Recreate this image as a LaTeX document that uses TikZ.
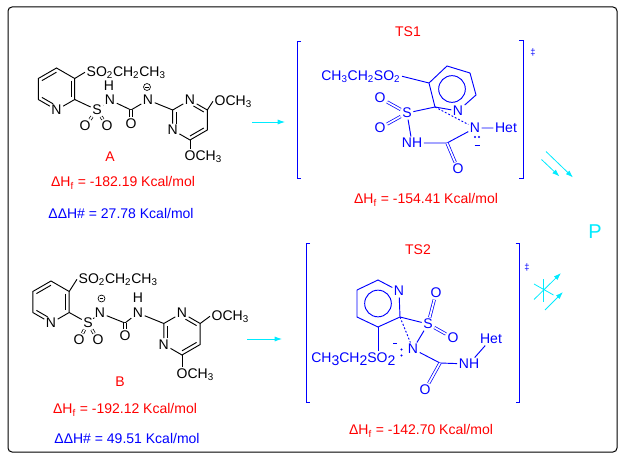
\documentclass[tikz,border=0pt]{standalone}
\usepackage{fontspec}
\setmainfont{Liberation Sans}
\usetikzlibrary{calc}
\usetikzlibrary{arrows.meta}
\newcommand{\molfont}{\fontsize{10.5}{12}\selectfont}
\newcommand{\daggerfont}{\fontsize{7}{8}\selectfont}
\newcommand{\prodfont}{\fontsize{15}{18}\selectfont}
\newcommand{\lowdigit}[1]{\raisebox{-2.5pt}{#1}}
\definecolor{schemered}{RGB}{255,0,0}
\definecolor{schemeblue}{RGB}{0,0,255}
\definecolor{schemecyan}{RGB}{0,235,255}
\tikzstyle{scheme}=[x=0.75pt, y=-0.75pt, line width=0.7pt,
                    % atom labels and captions
                    every node/.style={inner sep=1pt, font=\molfont}]
\tikzstyle{atom}=[inner sep=0.9pt]
\tikzstyle{dbond}=[double, double distance=1.3pt, line width=0.55pt]
\tikzstyle{partial}=[dash pattern=on 1.4pt off 1.4pt]
\tikzstyle{charge}=[circle, draw, line width=0.5pt, inner sep=0, minimum size=5.2pt,
                    path picture={\draw[line width=0.5pt, shorten <=1.2pt, shorten >=1.2pt] (path picture bounding box.west) -- (path picture bounding box.east);}]
\tikzstyle{react}=[schemecyan, line width=0.6pt, -{Latex[length=5.5pt, width=3.8pt]}]

\begin{document}
\begin{tikzpicture}[scheme]
        \useasboundingbox (0, 0) rectangle (624, 460);
        \draw[line width=0.75pt, rounded corners=3pt] (8, 7) rectangle (617, 452);
        % molecule A
        \coordinate (Ac) at (56.5, 89);
        \coordinate (A1) at (38.3, 78.5);
        \coordinate (A2) at (56.5, 68);
        \coordinate (A3) at (74.7, 78.5);
        \coordinate (A4) at (74.7, 99.5);
        \coordinate (A5) at (56.5, 110);
        \coordinate (A6) at (38.3, 99.5);
        \node[atom] (AN1) at (A5) {N};
        \draw (A6) -- (A1) -- (A2) -- (A3) -- (A4) -- (AN1) -- (A6);
        \draw ($(A1)!0.2!(Ac)$) -- ($(A2)!0.2!(Ac)$);
        \draw ($(A3)!0.2!(Ac)$) -- ($(A4)!0.2!(Ac)$);
        \draw[shorten <=3pt] ($(A5)!0.2!(Ac)$) -- ($(A6)!0.2!(Ac)$);
        \node[atom, anchor=base west] (Asub) at (85, 76) {SO\textsubscript{2}CH\textsubscript{2}CH\textsubscript{3}};
        \draw (A3) -- (Asub.west);
        \node[atom] (AS) at (97, 110) {S};
        \node[atom] (AO1) at (85, 126) {O};
        \node[atom] (AO2) at (107, 126) {O};
        \draw (A4) -- (AS);
        \draw[dbond] (AS) -- (AO1);
        \draw[dbond] (AS) -- (AO2);
        \node[atom] (AN2) at (110, 100) {N};
        \node[atom] (AH) at (109, 86) {H};
        \draw (AS) -- (AN2);
        \coordinate (AC) at (131, 110);
        \node[atom] (AO3) at (131, 124) {O};
        \node[atom] (AN3) at (148, 100) {N};
        \node[charge] (Aq) at (147, 87) {};
        \draw (AN2) -- (AC) -- (AN3);
        \draw[dbond] (AC) -- (AO3);
        \coordinate (APc) at (190, 120);
        \coordinate (AP1) at (172.7, 130);
        \coordinate (AP2) at (172.7, 110);
        \coordinate (AP3) at (190, 100);
        \coordinate (AP4) at (207.3, 110);
        \coordinate (AP5) at (207.3, 130);
        \coordinate (AP6) at (190, 140);
        \node[atom] (AN4) at (AP1) {N};
        \node[atom] (AN5) at (AP3) {N};
        \draw (AN3) -- (AP2);
        \draw (AN4) -- (AP2) -- (AN5) -- (AP4) -- (AP5) -- (AP6) -- (AN4);
        \draw[shorten <=3pt] ($(AP1)!0.2!(APc)$) -- ($(AP2)!0.2!(APc)$);
        \draw[shorten <=3pt] ($(AP3)!0.2!(APc)$) -- ($(AP4)!0.2!(APc)$);
        \draw ($(AP5)!0.2!(APc)$) -- ($(AP6)!0.2!(APc)$);
        \node[atom, anchor=base west] (AOme1) at (213, 105) {OCH\textsubscript{3}};
        \node[atom, anchor=base west] (AOme2) at (183, 160) {OCH\textsubscript{3}};
        \draw (AP4) -- (AOme1.west);
        \draw (AP6) -- (AP6 |- AOme2.north);
        \node[schemered] (Aname) at (110, 157) {A};
        \node[schemered] (AdHf) at (123, 183) {ΔH\textsubscript{f} = -182.19 Kcal/mol};
        \node[schemeblue] (AddH) at (121, 213) {ΔΔH\# = 27.78 Kcal/mol};
        % molecule B
        \coordinate (Bc) at (51, 302);
        \coordinate (B1) at (32.8, 291.5);
        \coordinate (B2) at (51, 281);
        \coordinate (B3) at (69.2, 291.5);
        \coordinate (B4) at (69.2, 312.5);
        \coordinate (B5) at (51, 323);
        \coordinate (B6) at (32.8, 312.5);
        \node[atom] (BN1) at (B5) {N};
        \draw (B6) -- (B1) -- (B2) -- (B3) -- (B4) -- (BN1) -- (B6);
        \draw ($(B1)!0.2!(Bc)$) -- ($(B2)!0.2!(Bc)$);
        \draw ($(B3)!0.2!(Bc)$) -- ($(B4)!0.2!(Bc)$);
        \draw[shorten <=3pt] ($(B5)!0.2!(Bc)$) -- ($(B6)!0.2!(Bc)$);
        \node[atom, anchor=base west] (Bsub) at (77, 283) {SO\textsubscript{2}CH\textsubscript{2}CH\textsubscript{3}};
        \draw (B3) -- (Bsub.west);
        \node[atom] (BS) at (88, 323) {S};
        \node[atom] (BO1) at (79, 340) {O};
        \node[atom] (BO2) at (98, 340) {O};
        \draw (B4) -- (BS);
        \draw[dbond] (BS) -- (BO1);
        \draw[dbond] (BS) -- (BO2);
        \node[atom] (BN2) at (100, 313) {N};
        \node[charge] (Bq) at (101.5, 298.5) {};
        \draw (BS) -- (BN2);
        \coordinate (BC) at (125, 323);
        \node[atom] (BO3) at (125, 336) {O};
        \node[atom] (BN3) at (138, 313) {N};
        \node[atom] (BH) at (138, 298) {H};
        \draw (BN2) -- (BC) -- (BN3);
        \draw[dbond] (BC) -- (BO3);
        \coordinate (BPc) at (182, 334);
        \coordinate (BP1) at (163.8, 344.5);
        \coordinate (BP2) at (163.8, 323.5);
        \coordinate (BP3) at (182, 313);
        \coordinate (BP4) at (200.2, 323.5);
        \coordinate (BP5) at (200.2, 344.5);
        \coordinate (BP6) at (182, 355);
        \node[atom] (BN4) at (BP1) {N};
        \node[atom] (BN5) at (BP3) {N};
        \draw (BN3) -- (BP2);
        \draw (BN4) -- (BP2) -- (BN5) -- (BP4) -- (BP5) -- (BP6) -- (BN4);
        \draw[shorten <=3pt] ($(BP1)!0.2!(BPc)$) -- ($(BP2)!0.2!(BPc)$);
        \draw[shorten <=3pt] ($(BP3)!0.2!(BPc)$) -- ($(BP4)!0.2!(BPc)$);
        \draw ($(BP5)!0.2!(BPc)$) -- ($(BP6)!0.2!(BPc)$);
        \node[atom, anchor=base west] (BOme1) at (210, 320) {OCH\textsubscript{3}};
        \node[atom, anchor=base west] (BOme2) at (175, 378) {OCH\textsubscript{3}};
        \draw (BP4) -- (BOme1.west);
        \draw (BP6) -- (BP6 |- BOme2.north);
        \node[schemered] (Bname) at (120, 382) {B};
        \node[schemered] (BdHf) at (125, 410) {ΔH\textsubscript{f} = -192.12 Kcal/mol};
        \node[schemeblue] (BddH) at (127, 438) {ΔΔH\# = 49.51 Kcal/mol};
        % TS1
        \node[schemered] (Taname) at (408, 32) {TS1};
        \node[schemered] (TadHf) at (426, 200) {ΔH\textsubscript{f} = -154.41 Kcal/mol};
        \begin{scope}[schemeblue]
        \draw (301, 41) -- (297, 41) -- (297, 178) -- (301, 178);
        \draw (519, 40) -- (523, 40) -- (523, 178) -- (519, 178);
        \node[font=\daggerfont] (Tadag) at (533, 52) {‡};
        \coordinate (Tac) at (452, 89);
        \coordinate (Ta1) at (429, 83);
        \coordinate (Ta2) at (447, 66);
        \coordinate (Ta3) at (470, 73);
        \coordinate (Ta4) at (476, 95);
        \coordinate (Ta5) at (458, 111);
        \coordinate (Ta6) at (435, 107);
        \node[atom] (TaN1) at (Ta5) {N};
        \draw (Ta6) -- (Ta1) -- (Ta2) -- (Ta3) -- (Ta4) -- (TaN1) -- (Ta6);
        \draw (Tac) circle (10pt);
        \node[atom, anchor=base east] (Tasub) at (402, 80) {CH\textsubscript{3}CH\textsubscript{2}SO\textsubscript{2}};
        \draw (Tasub.east) -- (Ta1);
        \node[atom] (TaS) at (407, 113) {S};
        \node[atom] (TaO1) at (380, 98) {O};
        \node[atom] (TaO2) at (380, 128) {O};
        \draw (TaS) -- (Ta6);
        \draw[dbond] (TaS) -- (TaO1);
        \draw[dbond] (TaS) -- (TaO2);
        \node[atom] (TaNH) at (412, 143) {NH};
        \draw (TaS) -- (TaNH);
        \coordinate (TaC) at (447, 143);
        \node[atom] (TaO3) at (458, 169) {O};
        \node[atom] (TaN2) at (475, 128) {N};
        \node[atom] (TaHet) at (506, 128) {Het};
        \draw (TaNH) -- (TaC) -- (TaN2) -- (TaHet);
        \draw[dbond] (TaC) -- (TaO3);
        \draw[partial] (Ta6) -- (TaN2);
        \fill (475, 137) circle (0.8pt) (479, 137) circle (0.8pt);
        \draw (474.5, 145) -- (479.5, 145);
        \end{scope}
        % TS2
        \node[schemered] (Tbname) at (418, 250) {TS2};
        \node[schemered] (TbdHf) at (421, 431) {ΔH\textsubscript{f} = -142.70 Kcal/mol};
        \begin{scope}[schemeblue]
        \draw (310, 243) -- (306, 243) -- (306, 402) -- (310, 402);
        \draw (515.5, 243) -- (519.5, 243) -- (519.5, 402) -- (515.5, 402);
        \node[font=\daggerfont] (Tbdag) at (527, 267) {‡};
        \coordinate (Tbc) at (378, 303.5);
        \coordinate (Tb1) at (378, 280);
        \coordinate (Tb2) at (399, 291);
        \coordinate (Tb3) at (400, 317);
        \coordinate (Tb4) at (378, 327);
        \coordinate (Tb5) at (357, 317);
        \coordinate (Tb6) at (357, 290);
        \node[atom] (TbN1) at (Tb2) {N};
        \draw (Tb6) -- (Tb1) -- (TbN1) -- (Tb3) -- (Tb4) -- (Tb5) -- (Tb6);
        \draw (Tbc) circle (10pt);
        \node[atom, anchor=base east] (Tbsub) at (397, 362) {CH\lowdigit{3}CH\lowdigit{2}SO\lowdigit{2}};
        \draw (Tb4) -- (Tb4 |- Tbsub.north);
        \node[atom] (TbS) at (428, 324) {S};
        \node[atom] (TbO1) at (436, 293) {O};
        \node[atom] (TbO2) at (453, 338) {O};
        \draw (Tb3) -- (TbS);
        \draw[dbond] (TbS) -- (TbO1);
        \draw[dbond] (TbS) -- (TbO2);
        \node[atom] (TbN2) at (413, 349) {N};
        \draw (TbS) -- (TbN2);
        \draw[partial] (Tb3) -- (TbN2);
        \coordinate (TbC) at (440, 363);
        \node[atom] (TbNH) at (469, 364) {NH};
        \node[atom] (TbO3) at (425, 390) {O};
        \node[atom] (TbHet) at (491, 339) {Het};
        \draw (TbN2) -- (TbC) -- (TbNH) -- (TbHet);
        \draw[dbond] (TbC) -- (TbO3);
        \fill (401.5, 349.5) circle (0.8pt) (401.5, 355.5) circle (0.8pt);
        \draw (393, 343) -- (397, 343);
        \end{scope}
        % reaction arrows
        \coordinate (Aarr) at (252, 122);
        \coordinate (Taarr) at (285, 122);
        \coordinate (Barr) at (247, 339);
        \coordinate (Tbarr) at (282, 339);
        \draw[react] (Aarr) -- (Taarr);
        \draw[react] (Barr) -- (Tbarr);
        \node[schemecyan, font=\prodfont] (P) at (595, 232) {P};
        \coordinate (Pa1) at (541.5, 159.5);
        \coordinate (Pa2) at (559.5, 176.5);
        \coordinate (Pb1) at (546, 151.5);
        \coordinate (Pb2) at (573, 177.5);
        \draw[react] (Pa1) -- (Pa2);
        \draw[react] (Pb1) -- (Pb2);
        \coordinate (Pc1) at (534, 299.5);
        \coordinate (Pc2) at (561, 273);
        \coordinate (Pd1) at (545, 310);
        \coordinate (Pd2) at (563, 292);
        \draw[react] (Pc1) -- (Pc2);
        \draw[react] (Pd1) -- (Pd2);
        \draw[schemecyan, line width=0.6pt] (543.3, 279) -- (543.3, 302);
        \draw[schemecyan, line width=0.6pt] (534, 284) -- (553.5, 295);
    \end{tikzpicture}
\end{document}
